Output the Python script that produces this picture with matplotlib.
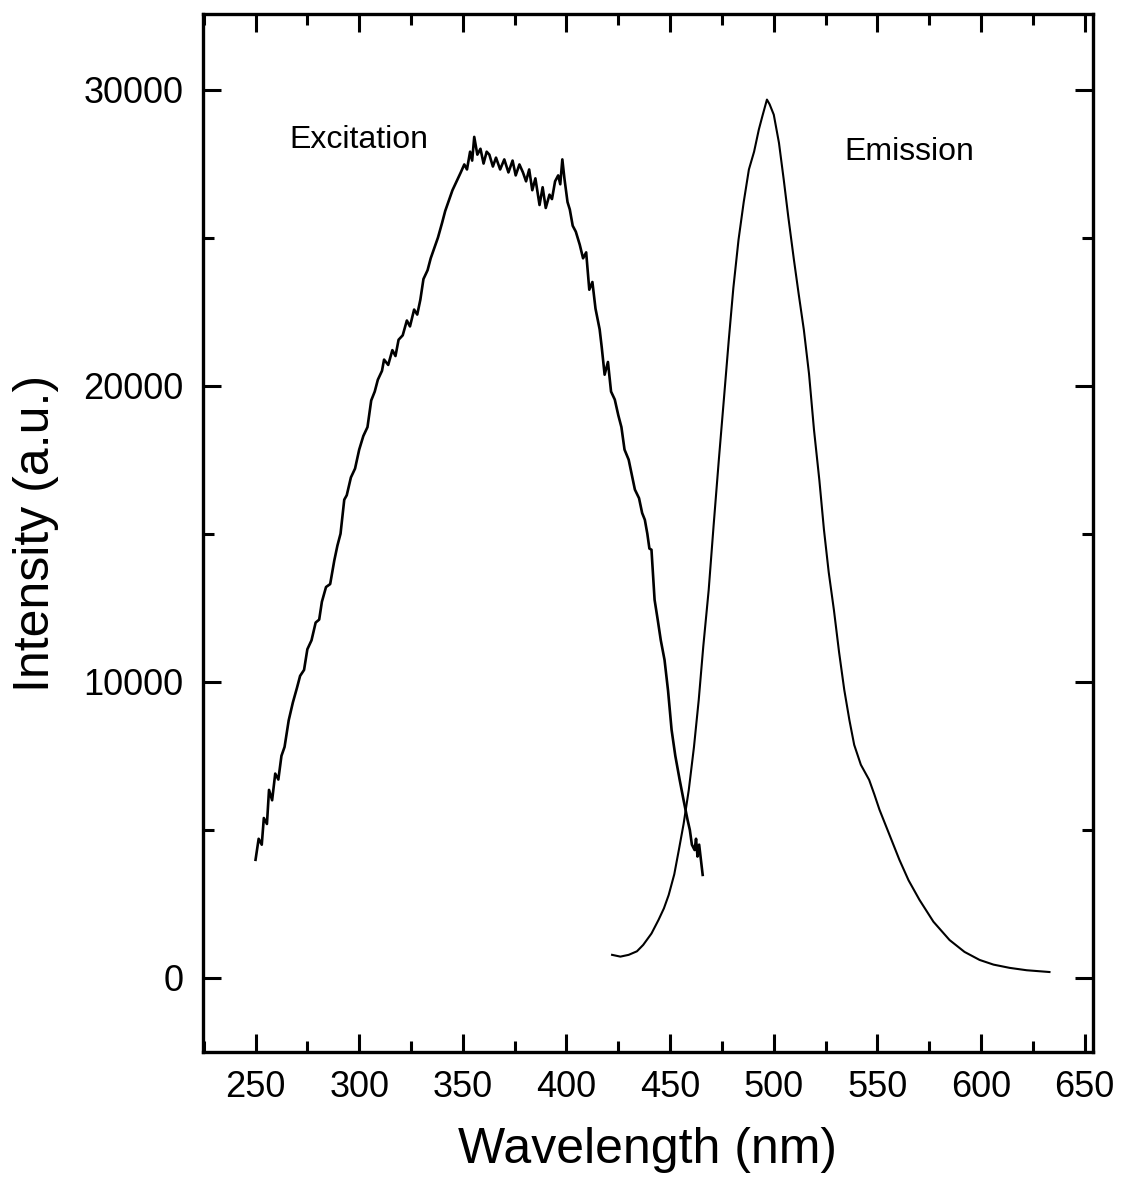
import matplotlib
matplotlib.use("Agg")
import matplotlib.pyplot as plt
from matplotlib.ticker import MultipleLocator

plt.rcParams['font.family'] = ['Liberation Sans', 'DejaVu Sans']

# Excitation spectrum (wavelength nm, intensity a.u.)
exc_wl = [250, 251.5, 253, 254, 255.5, 256.5, 258, 259.5, 261, 262.5, 264, 266, 268, 270,
          271.5, 273.4, 275, 277, 279, 280.7, 282, 284, 286, 288, 289.5, 291, 292.8, 294,
          296, 298, 300, 302, 304, 305.8, 307.5, 309, 311, 312, 314, 316, 317.5, 319, 321,
          323, 324.5, 326.5, 328, 329.5, 331, 333, 334.5, 336, 338, 340, 341.5, 343.4,
          345, 347, 349, 350.7, 352, 353.5, 354.5, 355.5, 357, 358.5, 360, 361.5, 362.8,
          364.5, 366, 368, 370, 372, 374, 375.5, 377.3, 379, 380.5, 382, 383.5, 385, 387,
          388.5, 390, 391.8, 393, 394.5, 396, 397, 398, 399, 400.5, 401.6, 403, 404.5,
          406.4, 408, 409.5, 411, 412.5, 414, 416, 417, 418.4, 420, 421.5, 423.3, 425,
          426.5, 428, 430, 431.5, 433, 435, 436.5, 437.8, 439, 440, 441, 442.5, 444,
          445.5, 447.3, 449, 450.7, 452.5, 454.6, 456.5, 458.4, 459.5, 460.5, 461.8,
          462.5, 463.2, 464, 465, 465.7]
exc_int = [3990, 4700, 4500, 5400, 5200, 6350, 6000, 6900, 6700, 7500, 7800, 8700, 9300, 9800,
           10200, 10400, 11100, 11400, 12000, 12100, 12700, 13200, 13300, 14100, 14600, 15000,
           16150, 16300, 16900, 17200, 17840, 18300, 18600, 19500, 19800, 20200, 20500, 20880,
           20700, 21200, 21000, 21550, 21700, 22200, 22000, 22570, 22400, 22900, 23600, 23900,
           24300, 24600, 25000, 25500, 25900, 26280, 26600, 26900, 27200, 27470, 27300, 27900,
           27600, 28400, 27800, 28000, 27500, 27900, 27800, 27400, 27700, 27300, 27640, 27200,
           27600, 27100, 27470, 27200, 26900, 27300, 26600, 27000, 26100, 26700, 26000, 26450,
           26300, 26900, 27100, 26800, 27640, 27000, 26200, 25950, 25400, 25200, 24760, 24300,
           24500, 23240, 23500, 22600, 21900, 21300, 20370, 20800, 19800, 19530, 19000, 18600,
           17840, 17500, 17000, 16490, 16200, 15700, 15470, 15000, 14500, 14460, 12770, 12100,
           11400, 10740, 9700, 8380, 7500, 6690, 6000, 5340, 5000, 4500, 4320, 4700, 4100,
           4500, 3900, 3480]

# Emission spectrum
emi_wl = [422, 426, 430, 434, 437, 441, 444.4, 447, 449.3, 452, 454.2, 456.5, 459, 461.5,
          463.8, 466, 468.6, 471, 473.5, 476, 478.3, 480.5, 483, 485.5, 488, 490.5, 492.8,
          494.5, 496.7, 498, 500, 502.5, 504.8, 507, 509.7, 512, 514.5, 517, 519.4, 522,
          524.2, 526.5, 529, 531.5, 534, 536.5, 538.8, 542, 546, 548.5, 551, 556, 560.6,
          565, 570.3, 577, 584.8, 592, 599.3, 606, 613.8, 622, 633]
emi_int = [780, 720, 780, 900, 1115, 1500, 1960, 2350, 2800, 3500, 4320, 5200, 6350, 7800,
           9390, 11200, 13100, 15300, 17500, 19600, 21550, 23300, 24930, 26200, 27300, 27900,
           28650, 29100, 29660, 29500, 29150, 28200, 26960, 25700, 24260, 23100, 21890, 20400,
           18510, 16800, 15140, 13700, 12430, 11000, 9730, 8700, 7870, 7200, 6690, 6200, 5680,
           4800, 3990, 3300, 2635, 1900, 1280, 880, 608, 450, 340, 260, 200]

x_ticks = [250, 300, 350, 400, 450, 500, 550, 600, 650]
y_ticks = [0, 10000, 20000, 30000]

fig = plt.figure(figsize=(11.26, 11.86), dpi=100)
ax = fig.add_axes([0.180, 0.113, 0.7907, 0.8752])

ax.plot(exc_wl, exc_int, color='black', lw=1.9)
ax.plot(emi_wl, emi_int, color='black', lw=1.5)

ax.set_xlim(224.5, 654)
ax.set_ylim(-2500, 32550)
ax.set_xticks(x_ticks)
ax.set_yticks(y_ticks)
ax.xaxis.set_minor_locator(MultipleLocator(25))
ax.yaxis.set_minor_locator(MultipleLocator(5000))
ax.tick_params(which='both', direction='in', top=True, right=True, width=2.2,
               labelsize=26)
ax.tick_params(which='major', length=13)
ax.tick_params(which='minor', length=8)
ax.tick_params(axis='y', which='major', pad=14)
ax.tick_params(axis='x', which='major', pad=13)
for s in ax.spines.values():
    s.set_linewidth(2.4)

ax.set_xlabel('Wavelength (nm)', fontsize=36, labelpad=16)
ax.set_ylabel('Intensity (a.u.)', fontsize=36, labelpad=17)

ax.text(300, 28300, 'Excitation', fontsize=23, ha='center', va='center')
ax.text(565.5, 27900, 'Emission', fontsize=23, ha='center', va='center')

fig.savefig('out.png', dpi=100)
